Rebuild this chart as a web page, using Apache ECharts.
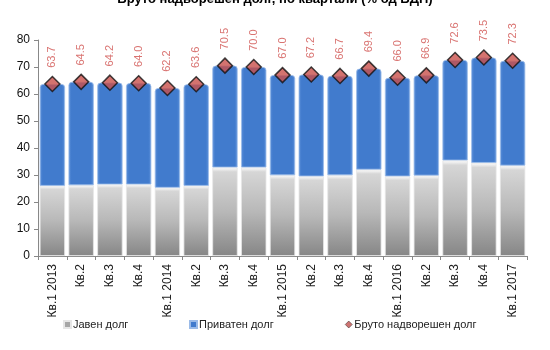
<!DOCTYPE html>
<html>
<head>
<meta charset="utf-8">
<script src="https://cdn.jsdelivr.net/npm/echarts@6/dist/echarts.min.js"></script>
<style>
  html, body { margin: 0; padding: 0; background: #fff; }
  #chart { width: 550px; height: 350px; }
</style>
</head>
<body>
<div id="chart"></div>
<script>
// Quarters shown on the category axis
const quarters = ['Кв.1 2013', 'Кв.2', 'Кв.3', 'Кв.4',
                  'Кв.1 2014', 'Кв.2', 'Кв.3', 'Кв.4',
                  'Кв.1 2015', 'Кв.2', 'Кв.3', 'Кв.4',
                  'Кв.1 2016', 'Кв.2', 'Кв.3', 'Кв.4',
                  'Кв.1 2017'];

// Public debt, % of GDP
const publicDebt = [26.0, 26.2, 26.5, 26.5, 25.3, 26.0, 32.8, 32.8,
                    29.9, 29.5, 29.9, 32.0, 29.5, 29.8, 35.4, 34.5, 33.5];

// Private debt, % of GDP
const privateDebt = [37.7, 38.3, 37.7, 37.5, 36.9, 37.6, 37.7, 37.2,
                     37.1, 37.7, 36.8, 37.4, 36.5, 37.1, 37.2, 39.0, 38.8];

// Gross external debt, % of GDP
const grossDebt = [63.7, 64.5, 64.2, 64.0, 62.2, 63.6, 70.5, 70.0,
                   67.0, 67.2, 66.7, 69.4, 66.0, 66.9, 72.6, 73.5, 72.3];

const seriesNames = ['Јавен долг', 'Приватен долг', 'Бруто надворешен долг'];
const yTicks = { min: 0, max: 80, step: 10 };

const font = 'Liberation Sans, Arial, sans-serif';

const grayFill = new echarts.graphic.LinearGradient(0, 0, 0, 1, [
  { offset: 0, color: '#ffffff' },
  { offset: 0.05, color: '#d6d6d6' },
  { offset: 0.5, color: '#b8b8b8' },
  { offset: 1, color: '#868686' }
]);
const blueFill = new echarts.graphic.LinearGradient(0, 0, 1, 0, [
  { offset: 0, color: '#5d91da' },
  { offset: 0.12, color: '#417bcd' },
  { offset: 0.88, color: '#417bcd' },
  { offset: 1, color: '#5d91da' }
]);

const legendText = { fontFamily: font, fontSize: 11, color: '#222', padding: [0, 0, 0, -3] };
function legendAt(left, item) {
  return {
    bottom: 15,
    left: left,
    itemWidth: 7,
    itemHeight: 7,
    textStyle: legendText,
    data: [item]
  };
}

const chart = echarts.init(document.getElementById('chart'), null, { renderer: 'canvas' });
chart.setOption({
  animation: false,
  backgroundColor: '#ffffff',
  title: {
    text: 'Бруто надворешен долг, по квартали (% од БДП)',
    left: 'center',
    top: -12,
    textStyle: { fontFamily: font, fontSize: 13, fontWeight: 'bold', color: '#000' }
  },
  grid: { left: 38, right: 23, top: 40, bottom: 94 },
  legend: [
    legendAt(58, { name: seriesNames[0], icon: 'rect', itemStyle: { color: '#a6a6a6' } }),
    legendAt(184, { name: seriesNames[1], icon: 'rect', itemStyle: { color: '#417bcd' } }),
    legendAt(340, { name: seriesNames[2], icon: 'diamond', itemStyle: { color: '#c0504d', borderColor: '#000', borderWidth: 0.5 } })
  ],
  xAxis: {
    type: 'category',
    data: quarters,
    axisLine: { lineStyle: { color: '#888' } },
    axisTick: { show: true, alignWithLabel: false, length: 4, lineStyle: { color: '#888' } },
    axisLabel: { rotate: 90, interval: 0, fontFamily: font, fontSize: 12, color: '#222', margin: 8 }
  },
  yAxis: {
    type: 'value',
    min: yTicks.min,
    max: yTicks.max,
    interval: yTicks.step,
    splitLine: { show: false },
    axisLine: { show: true, lineStyle: { color: '#888' } },
    axisTick: { show: true, length: 4, lineStyle: { color: '#888' } },
    axisLabel: { fontFamily: font, fontSize: 12, color: '#111', margin: 8 }
  },
  series: [
    {
      name: seriesNames[0],
      type: 'bar',
      stack: 'debt',
      data: publicDebt,
      barCategoryGap: '12%',
      itemStyle: { color: grayFill, borderColor: '#e6e6e6', borderWidth: 0.8 }
    },
    {
      name: seriesNames[1],
      type: 'bar',
      stack: 'debt',
      data: privateDebt,
      barCategoryGap: '12%',
      itemStyle: { color: blueFill, borderColor: '#9bbbe8', borderWidth: 0.8, borderRadius: [3, 3, 0, 0] }
    },
    {
      name: seriesNames[2],
      type: 'scatter',
      data: grossDebt,
      symbol: 'diamond',
      symbolSize: [15, 15],
      z: 5,
      itemStyle: { color: '#c9504b', borderColor: '#111', borderWidth: 1.5 },
      label: {
        show: true,
        position: 'top',
        distance: 8,
        rotate: 90,
        align: 'left',
        verticalAlign: 'middle',
        fontFamily: font,
        fontSize: 11,
        color: '#d0504d',
        formatter: p => p.value.toFixed(1)
      }
    }
  ]
});
</script>
</body>
</html>
